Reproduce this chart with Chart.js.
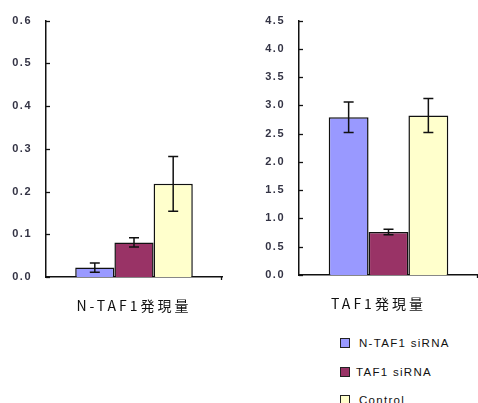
<!DOCTYPE html>
<html>
<head>
<meta charset="utf-8">
<script src="https://cdn.jsdelivr.net/npm/chart.js@4"></script>
<style>
  html, body { margin: 0; padding: 0; background: #fff; }
  body { width: 478px; height: 403px; position: relative; overflow: hidden; }
  .wrap { position: absolute; }
  .legend { position: absolute; left: 340px; top: 336px; font-family: Arial, "Liberation Sans", sans-serif; font-size: 11.5px; color: #111; letter-spacing: 1.3px; }
  .legend .row { position: absolute; left: 0; white-space: nowrap; height: 14px; line-height: 14px; }
  .legend .box { position: absolute; left: 0; top: 2px; width: 8px; height: 8px; border: 1.5px solid #222; }
  .legend .txt { position: absolute; top: 0; }
</style>
</head>
<body>
<div class="wrap" style="left:0;top:0;width:240px;height:320px;"><canvas id="c1"></canvas></div>
<div class="wrap" style="left:240px;top:0;width:238px;height:320px;"><canvas id="c2"></canvas></div>
<div class="legend" id="legend"></div>
<script>
// Series names and colours
const seriesNames = ["N-TAF1 siRNA", "TAF1 siRNA", "Control"];
const seriesColors = ["#9999FF", "#993366", "#FFFFCC"];

// N-TAF1 expression (left panel)
const nTafCategory = ["N-TAF1発現量"];
const nTafMeans = [0.022, 0.081, 0.218];
const nTafErrors = [0.011, 0.011, 0.064];
const nTafTicks = { min: 0, max: 0.6, step: 0.1 };

// TAF1 expression (right panel)
const tafCategory = ["TAF1発現量"];
const tafMeans = [2.79, 0.76, 2.82];
const tafErrors = [0.27, 0.05, 0.30];
const tafTicks = { min: 0, max: 4.5, step: 0.5 };

const tickColor = "#333344";

// Wider letter spacing for the axis texts
const spacingPlugin = {
  id: "spacing",
  beforeDraw(chart) { chart.ctx.letterSpacing = "1.5px"; },
  afterUpdate(chart) {
    const sx = chart.scales.x;
    if (sx && !sx._spaced) {
      const orig = sx.drawLabels;
      sx.drawLabels = function (area) {
        const prev = this.ctx.letterSpacing;
        this.ctx.letterSpacing = "3px";
        orig.call(this, area);
        this.ctx.letterSpacing = prev;
      };
      sx._spaced = true;
    }
  }
};

// Error bars, inward y ticks and the small end tick on the baseline
const decorPlugin = {
  id: "decor",
  afterDraw(chart) {
    const ctx = chart.ctx;
    const y = chart.scales.y;
    const area = chart.chartArea;
    ctx.save();
    ctx.letterSpacing = "0px";
    ctx.strokeStyle = "#111";
    ctx.lineWidth = 1.3;
    // inward ticks on the value axis
    y.ticks.forEach(t => {
      const py = Math.round(y.getPixelForValue(t.value)) + 0.5;
      ctx.beginPath();
      ctx.moveTo(area.left, py);
      ctx.lineTo(area.left + 4, py);
      ctx.stroke();
    });
    // small tick at the right end of the baseline
    ctx.beginPath();
    ctx.moveTo(area.right - 0.5, area.bottom);
    ctx.lineTo(area.right - 0.5, area.bottom + 3);
    ctx.stroke();
    // error bars
    ctx.lineWidth = 1.5;
    chart.data.datasets.forEach((ds, i) => {
      const bar = chart.getDatasetMeta(i).data[0];
      const v = ds.data[0], e = ds.errors[0];
      const top = y.getPixelForValue(v + e);
      const bot = y.getPixelForValue(v - e);
      const cx = bar.x;
      ctx.beginPath();
      ctx.moveTo(cx, top); ctx.lineTo(cx, bot);
      ctx.moveTo(cx - 5, top); ctx.lineTo(cx + 5, top);
      ctx.moveTo(cx - 5, bot); ctx.lineTo(cx + 5, bot);
      ctx.stroke();
    });
    ctx.restore();
  }
};

function makeChart(id, labels, means, errors, ticks, yWidth, pad, labelShift) {
  const datasets = seriesNames.map((name, i) => ({
    label: name,
    data: [means[i]],
    errors: [errors[i]],
    backgroundColor: seriesColors[i],
    borderColor: "#111",
    borderWidth: 1.5,
    borderSkipped: "bottom",
    categoryPercentage: 0.668,
    barPercentage: 1.0
  }));
  return new Chart(document.getElementById(id), {
    type: "bar",
    data: { labels, datasets },
    options: {
      responsive: true,
      maintainAspectRatio: false,
      animation: false,
      events: [],
      layout: { padding: pad },
      plugins: { legend: { display: false }, tooltip: { enabled: false } },
      scales: {
        x: {
          grid: { display: false, drawTicks: false },
          border: { color: "#111", width: 1.5 },
          ticks: {
            color: "#111",
            padding: 20,
            labelOffset: labelShift,
            font: { family: "'Noto Sans CJK JP', 'DejaVu Sans', sans-serif", size: 14 }
          },
          afterFit(s) { s.height = 43; }
        },
        y: {
          min: ticks.min, max: ticks.max,
          grid: { display: false, drawTicks: false },
          border: { color: "#111", width: 1.5 },
          ticks: {
            stepSize: ticks.step,
            color: tickColor,
            padding: 14,
            font: { family: "Arial, 'Liberation Sans', sans-serif", size: 11, weight: "bold" },
            callback: v => Number(v).toFixed(1)
          },
          afterFit(s) { s.width = yWidth; }
        }
      }
    },
    plugins: [spacingPlugin, decorPlugin]
  });
}

makeChart("c1", nTafCategory, nTafMeans, nTafErrors, nTafTicks, 46, { top: 19, right: 18, left: 0, bottom: 0 }, 0);
makeChart("c2", tafCategory, tafMeans, tafErrors, tafTicks, 59, { top: 18, right: 0, left: 0, bottom: 2 }, -10);

// Legend
const legend = document.getElementById("legend");
const rowTops = [0, 29, 57];
const textLefts = [19, 16, 19];
seriesNames.forEach((name, i) => {
  const row = document.createElement("div");
  row.className = "row";
  row.style.top = rowTops[i] + "px";
  row.innerHTML = '<span class="box" style="background:' + seriesColors[i] + '"></span>' +
                  '<span class="txt" style="left:' + textLefts[i] + 'px">' + name + '</span>';
  legend.appendChild(row);
});
</script>
</body>
</html>
